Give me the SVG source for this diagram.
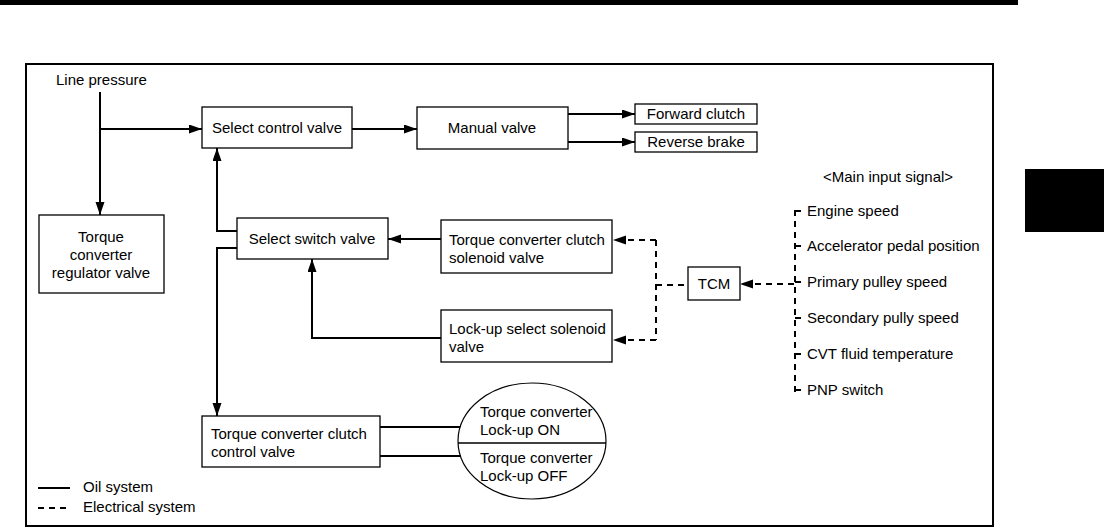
<svg xmlns="http://www.w3.org/2000/svg" width="1104" height="528" viewBox="0 0 1104 528">
<style>
text{font-family:"Liberation Sans",Arial,sans-serif;font-size:15px;fill:#000}
.box{fill:#fff;stroke:#000;stroke-width:1.3}
.oil{fill:none;stroke:#000;stroke-width:2}
.ele{fill:none;stroke:#000;stroke-width:2;stroke-dasharray:6,5}
.c{text-anchor:middle}
</style>
<defs>
<marker id="ah" markerUnits="userSpaceOnUse" markerWidth="14" markerHeight="10" refX="13" refY="4.5" orient="auto">
<path d="M0,0 L13,4.5 L0,9 z" fill="#000"/>
</marker>
</defs>
<rect x="0" y="0" width="1018" height="5" fill="#000"/>
<rect x="1025" y="169" width="79" height="63" fill="#000"/>
<rect x="26" y="64" width="967" height="462" fill="none" stroke="#000" stroke-width="2"/>

<g id="connectors">
<path class="oil" d="M100,92 V215" marker-end="url(#ah)"/>
<path class="oil" d="M100,129 H202" marker-end="url(#ah)"/>
<path class="oil" d="M352,129 H417" marker-end="url(#ah)"/>
<path class="oil" d="M568,114 H635" marker-end="url(#ah)"/>
<path class="oil" d="M568,142 H635" marker-end="url(#ah)"/>
<path class="oil" d="M441,239 H388" marker-end="url(#ah)"/>
<path class="oil" d="M237,231 H217 V148" marker-end="url(#ah)"/>
<path class="oil" d="M237,248 H217 V416" marker-end="url(#ah)"/>
<path class="oil" d="M441,338 H312 V259" marker-end="url(#ah)"/>
<path class="oil" d="M380,427 H463"/>
<path class="oil" d="M380,456 H463"/>
<path class="ele" d="M656,240 H613" marker-end="url(#ah)"/>
<path class="ele" d="M656,340 H613" marker-end="url(#ah)"/>
<path class="ele" d="M656,240 V340"/>
<path class="ele" d="M656,285 H688"/>
<path class="ele" d="M794,284 H740" marker-end="url(#ah)"/>
<path class="ele" d="M795,210 V392"/>
<path class="ele" d="M795,211 H806 M795,246 H806 M795,282 H806 M795,318 H806 M795,354 H806 M795,390 H806" stroke-dasharray="4,3"/>
</g>

<g id="line-pressure"><text x="56" y="85">Line pressure</text></g>
<g id="select-control-valve"><rect class="box" x="202" y="107" width="150" height="41"/><text class="c" x="277" y="133">Select control valve</text></g>
<g id="manual-valve"><rect class="box" x="417" y="107" width="151" height="42"/><text class="c" x="492" y="133">Manual valve</text></g>
<g id="forward-clutch"><rect class="box" x="635" y="104" width="122" height="20"/><text class="c" x="696" y="119">Forward clutch</text></g>
<g id="reverse-brake"><rect class="box" x="635" y="132" width="122" height="20"/><text class="c" x="696" y="147">Reverse brake</text></g>
<g id="tc-regulator-valve"><rect class="box" x="39" y="215" width="125" height="78"/><text class="c" x="101" y="242">Torque</text><text class="c" x="101" y="260">converter</text><text class="c" x="101" y="278">regulator valve</text></g>
<g id="select-switch-valve"><rect class="box" x="237" y="218" width="151" height="41"/><text class="c" x="312" y="244">Select switch valve</text></g>
<g id="tcc-solenoid-valve"><rect class="box" x="441" y="220" width="171" height="53"/><text x="449" y="245">Torque converter clutch</text><text x="449" y="263">solenoid valve</text></g>
<g id="lockup-select-solenoid-valve"><rect class="box" x="441" y="310" width="171" height="52"/><text x="449" y="334">Lock-up select solenoid</text><text x="449" y="352">valve</text></g>
<g id="tcm"><rect class="box" x="688" y="267" width="52" height="33"/><text class="c" x="714" y="289">TCM</text></g>
<g id="main-input-signal"><text x="823" y="182">&lt;Main input signal&gt;</text>
<text x="807" y="216">Engine speed</text>
<text x="807" y="251">Accelerator pedal position</text>
<text x="807" y="287">Primary pulley speed</text>
<text x="807" y="323">Secondary pully speed</text>
<text x="807" y="359">CVT fluid temperature</text>
<text x="807" y="395">PNP switch</text></g>
<g id="tcc-control-valve"><rect class="box" x="202" y="416" width="178" height="51"/><text x="211" y="439">Torque converter clutch</text><text x="211" y="457">control valve</text></g>
<g id="lockup-ellipse"><ellipse cx="532" cy="441" rx="74" ry="58" fill="#fff" stroke="#000" stroke-width="1.2"/><line x1="458" y1="443" x2="606" y2="443" stroke="#000" stroke-width="1.3"/>
<text x="480" y="417">Torque converter</text><text x="480" y="435">Lock-up ON</text><text x="480" y="463">Torque converter</text><text x="480" y="481">Lock-up OFF</text></g>
<g id="legend"><line class="oil" x1="38" y1="488" x2="70" y2="488"/><text x="83" y="492">Oil system</text>
<line class="ele" x1="38" y1="508" x2="70" y2="508" stroke-dasharray="6,5"/><text x="83" y="512">Electrical system</text></g>
</svg>
